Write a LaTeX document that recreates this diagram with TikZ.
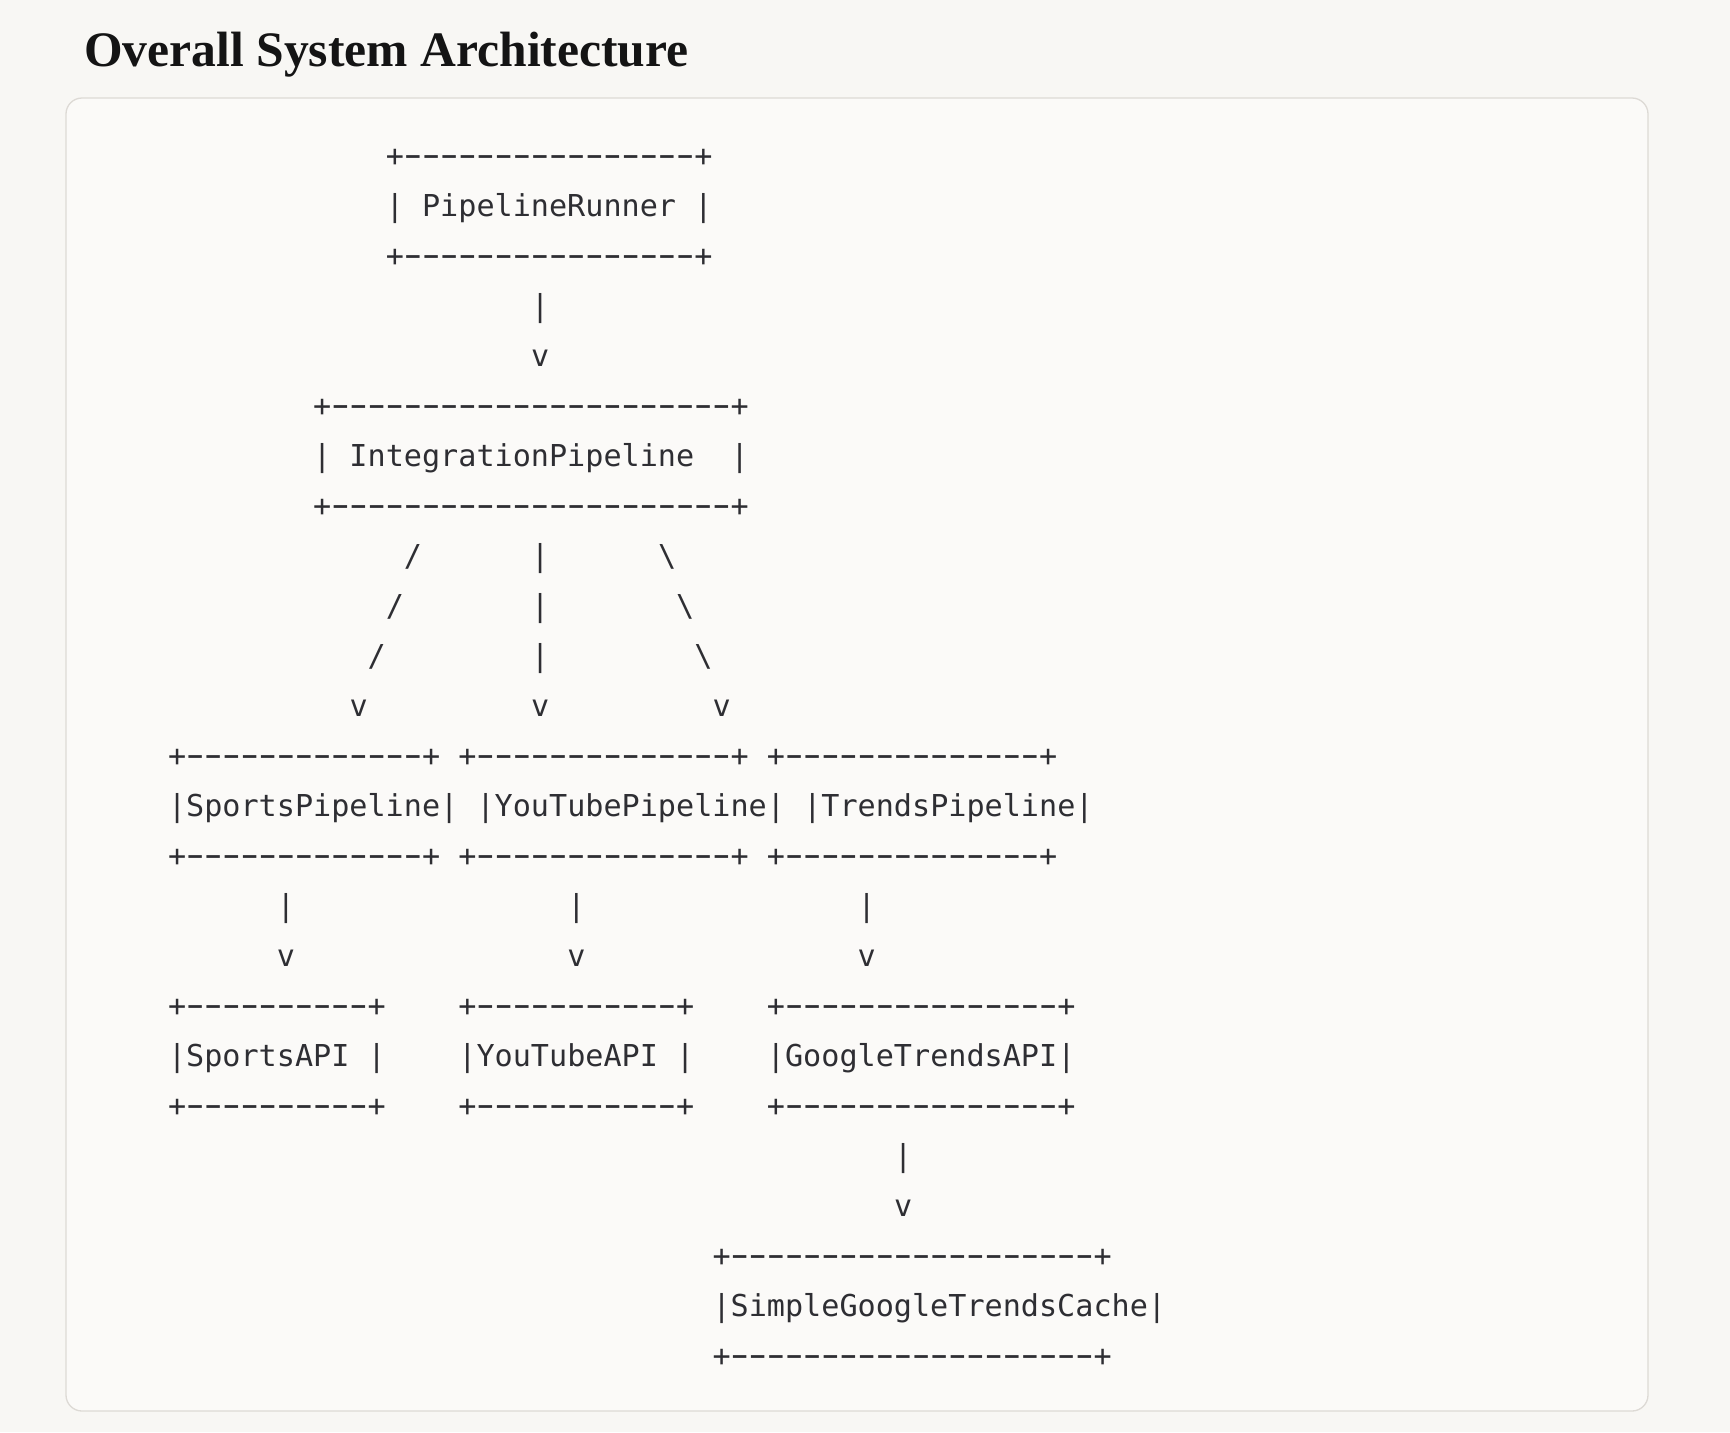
\documentclass[tikz,border=0pt]{standalone}
\usepackage{fontspec}
\usepackage{graphicx}
\setmainfont{Liberation Serif}
\setmonofont{DejaVu Sans Mono}
\definecolor{pagebg}{HTML}{F8F7F4}
\definecolor{codebg}{HTML}{FBFAF8}
\definecolor{codeframe}{HTML}{DDDAD5}
\definecolor{ink}{HTML}{2E2E33}
% one piece of the ascii drawing: name, row, column, text
\newcommand\ascline[4]{\node[asc] (#1) at ({167.6+#3*18.15},{166.7+#2*49.97}) {#4};}
% long dash filling one cell, and a box edge of #1 dashes
\newcommand\dsh{\makebox[0.602em]{\scalebox{1.75}[1.15]{-}}}
\newcommand\brd[1]{+\foreach\i in {1,...,#1}{\dsh}+}
\begin{document}
\begin{tikzpicture}[x=0.5pt,y=-0.5pt,
  asc/.style={anchor=base west,inner sep=0pt,text=ink,font=\ttfamily\fontsize{15.07}{18}\selectfont}]
\fill[pagebg] (0,0) rectangle (1730,1432);
\draw[codeframe,fill=codebg,line width=0.65pt,rounded corners=8pt] (66,98) rectangle (1648,1411);
\node[anchor=base west,inner sep=0pt,text=black!92,font=\bfseries\fontsize{24.8}{30}\selectfont] (title) at (84,66) {Overall System Architecture};
%runner
\ascline{runT}{0}{12}{\brd{16}}
\ascline{runner}{1}{12}{| PipelineRunner |}
\ascline{runB}{2}{12}{\brd{16}}
\ascline{runBar}{3}{20}{|} \ascline{runV}{4}{20}{v}
%integration
\ascline{intT}{5}{8}{\brd{22}}
\ascline{integ}{6}{8}{| IntegrationPipeline~ |}
\ascline{intB}{7}{8}{\brd{22}}
\foreach \r/\a/\c in {8/13/27,9/12/28,10/11/29}{
\ascline{sl\r}{\r}{\a}{/} \ascline{mid\r}{\r}{20}{|} \ascline{bs\r}{\r}{\c}{\textbackslash}}
\ascline{sportsV}{11}{10}{v} \ascline{youtubeV}{11}{20}{v} \ascline{trendsV}{11}{30}{v}
%pipelines
\foreach \r/\n in {12/T,14/B}{
\ascline{sports\n}{\r}{0}{\brd{13}}
\ascline{youtube\n}{\r}{16}{\brd{14}}
\ascline{trends\n}{\r}{33}{\brd{14}}}
\ascline{sports}{13}{0}{|SportsPipeline|}
\ascline{youtube}{13}{17}{|YouTubePipeline|}
\ascline{trends}{13}{35}{|TrendsPipeline|}
\foreach \c/\n in {6/sp,22/yt,38/gt}{
\ascline{\n Bar}{15}{\c}{|} \ascline{\n V}{16}{\c}{v}}
%apis
\foreach \r/\n in {17/T,19/B}{
\ascline{spapi\n}{\r}{0}{\brd{10}}
\ascline{ytapi\n}{\r}{16}{\brd{11}}
\ascline{gtapi\n}{\r}{33}{\brd{15}}}
\ascline{spapi}{18}{0}{|SportsAPI |}
\ascline{ytapi}{18}{16}{|YouTubeAPI |}
\ascline{gtapi}{18}{33}{|GoogleTrendsAPI|}
\ascline{cacheBar}{20}{40}{|} \ascline{cacheV}{21}{40}{v}
%cache
\ascline{cacheT}{22}{30}{\brd{20}}
\ascline{cache}{23}{30}{|SimpleGoogleTrendsCache|}
\ascline{cacheB}{24}{30}{\brd{20}}
\end{tikzpicture}
\end{document}
